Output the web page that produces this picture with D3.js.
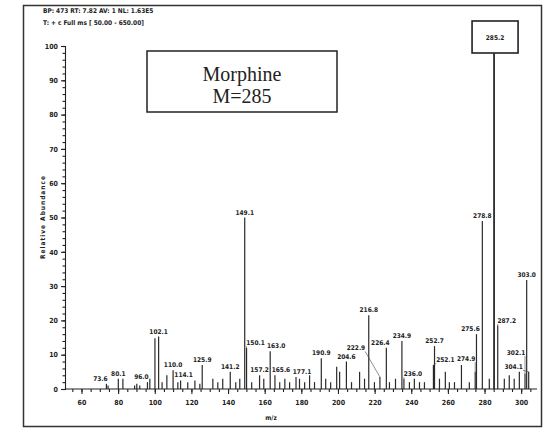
<!DOCTYPE html>
<html>
<head>
<meta charset="utf-8">
<script src="https://cdn.jsdelivr.net/npm/d3@7"></script>
<style>
  body { margin: 0; background: #fff; }
  svg { display: block; }
  .small { font-family: "DejaVu Sans Condensed", "DejaVu Sans", sans-serif; font-stretch: condensed; font-weight: bold; fill: #222; }
</style>
</head>
<body>
<div id="chart"></div>
<script>
// labelled peaks of the spectrum (m/z, relative abundance %)
var labelMz  = [73.6, 80.1, 96.0, 102.1, 110.0, 114.1, 125.9, 141.2, 149.1, 150.1, 157.2, 163.0, 165.6, 177.1,
                190.9, 204.6, 216.8, 222.9, 226.4, 234.9, 236.0, 252.1, 252.7, 274.9, 275.6, 278.8, 285.2, 287.2,
                302.1, 303.0, 304.1];
var labelInt = [1.5, 3, 2, 15.3, 5.5, 2.5, 7, 5, 50, 12, 4, 11, 4, 3.5,
                9, 8, 21.5, 3.5, 12, 14, 3, 7, 12.5, 5, 16, 49, 100, 18.5,
                4.5, 31.8, 5];

// unlabelled small peaks
var noiseMz  = [74.5, 82.6, 89.0, 90.2, 91.8, 97.3, 100.1, 104.0, 106.6, 112.6, 118.0, 121.9, 124.6,
                131.7, 134.4, 137.1, 144.2, 146.4, 152.9, 159.5, 168.2, 171.0, 173.6, 179.0, 181.8, 184.5,
                187.2, 193.3, 196.0, 199.3, 200.9, 207.4, 211.8, 214.5, 219.9, 228.1, 231.4, 239.0, 241.7,
                244.5, 247.2, 255.4, 258.6, 260.8, 263.6, 267.4, 271.7, 282.6, 290.8, 293.5, 296.2, 299.0];
var noiseInt = [1, 3, 1, 1.5, 1, 3, 14.8, 2, 4, 2, 2, 2.5, 1.5,
                3, 2, 3, 2, 3, 2, 3, 2, 3, 2, 3, 2, 4,
                2, 3, 2, 6.5, 5, 2, 5, 3, 2, 2, 3, 2, 3,
                2, 2, 3, 5, 2, 2, 7, 2, 3, 3, 4, 3, 5];

var xTicks = [60, 80, 100, 120, 140, 160, 180, 200, 220, 240, 260, 280, 300];
var yTicks = [0, 10, 20, 30, 40, 50, 60, 70, 80, 90, 100];

var headerLines = ['BP: 473  RT: 7.82  AV: 1  NL: 1.63E5', 'T: + c Full ms [ 50.00 - 650.00]'];
var boxLines = ['Morphine', 'M=285'];

var width = 543, height = 433;
var ink = '#222';

var svg = d3.select('#chart').append('svg')
	.attr('width', width)
	.attr('height', height);

// scanned page frame
svg.append('rect')
	.attr('x', 23.5).attr('y', 5.5)
	.attr('width', 518).attr('height', 421)
	.attr('fill', 'none').attr('stroke', '#333').attr('stroke-width', 1.5);

svg.selectAll('.hdr').data(headerLines).enter().append('text')
	.attr('class', 'small hdr')
	.attr('fill', ink)
	.attr('x', 43).attr('y', function (d, i) { return 13 + i * 12; })
	.attr('font-size', 6.5)
	.text(function (d) { return d; });

var x = d3.scaleLinear().domain([51, 307]).range([65, 534]);
var y = d3.scaleLinear().domain([0, 100]).range([389, 46]);

// x axis: majors with labels, minors every 5
var xAxis = svg.append('g').attr('transform', 'translate(0,389)')
	.call(d3.axisBottom(x).tickValues(xTicks).tickSize(5).tickPadding(6).tickFormat(d3.format('d')));
svg.append('g').attr('transform', 'translate(0,389)')
	.call(d3.axisBottom(x).tickValues(d3.range(55, 306, 5)).tickSize(3).tickFormat(''))
	.select('.domain').remove();
xAxis.select('.domain').attr('d', 'M65,0H537');

// y axis: majors every 10, minors every 2
var yAxis = svg.append('g').attr('transform', 'translate(65,0)')
	.call(d3.axisLeft(y).tickValues(yTicks).tickSize(4).tickPadding(3).tickFormat(d3.format('d')));
svg.append('g').attr('transform', 'translate(65,0)')
	.call(d3.axisLeft(y).tickValues(d3.range(0, 101, 2)).tickSize(2.5).tickFormat(''))
	.select('.domain').remove();

svg.selectAll('.tick text')
	.attr('class', 'small')
	.attr('fill', ink)
	.attr('font-size', 7);
svg.selectAll('.domain, .tick line').attr('stroke', ink).attr('stroke-width', 1.1);

svg.append('text')
	.attr('class', 'small')
	.attr('fill', ink)
	.attr('transform', 'translate(45,217) rotate(-90)')
	.attr('text-anchor', 'middle')
	.attr('font-size', 6.5)
	.attr('letter-spacing', 1)
	.text('Relative Abundance');

svg.append('text')
	.attr('class', 'small')
	.attr('fill', ink)
	.attr('x', 271).attr('y', 420)
	.attr('text-anchor', 'middle')
	.attr('font-size', 6.5)
	.text('m/z');

// all peaks as one list for drawing and collision checks
var peaks = [];
labelMz.forEach(function (m, i) { peaks.push({ mz: m, v: labelInt[i], label: m.toFixed(1) }); });
noiseMz.forEach(function (m, i) { peaks.push({ mz: m, v: noiseInt[i], label: null }); });

var basePeak = peaks.reduce(function (a, b) { return b.v > a.v ? b : a; });

// base peak label box
var bx = x(basePeak.mz);
svg.append('rect')
	.attr('x', bx - 22).attr('y', 21)
	.attr('width', 46).attr('height', 32)
	.attr('fill', '#fff').attr('stroke', ink).attr('stroke-width', 1.6);
svg.append('text')
	.attr('class', 'small')
	.attr('fill', ink)
	.attr('x', bx + 1).attr('y', 40)
	.attr('text-anchor', 'middle')
	.attr('font-size', 6.5)
	.text(basePeak.label);

svg.append('g').selectAll('line').data(peaks).enter().append('line')
	.attr('x1', function (d) { return x(d.mz); })
	.attr('x2', function (d) { return x(d.mz); })
	.attr('y1', y(0))
	.attr('y2', function (d) { return d === basePeak ? 53 : y(d.v); })
	.attr('stroke', '#2a2a2a')
	.attr('stroke-width', function (d) { return d === basePeak ? 1.8 : 1.2; });

// place peak labels, tallest first; nudge sideways (then upward) away from taller lines and other labels
var placed = [];
var gl = svg.append('g');
var moves = [];
[0, -8, -16, -24].forEach(function (dy) {
	moves.push([0, dy]);
	for (var k = 1; k <= 8; k++) { moves.push([3 * k, dy], [-3 * k, dy]); }
});
peaks.filter(function (d) { return d.label && d !== basePeak; })
	.sort(function (a, b) { return b.v - a.v; })
	.forEach(function (d) {
		var px = x(d.mz);
		var t = gl.append('text').attr('class', 'small').attr('fill', ink).attr('font-size', 6.5)
			.attr('text-anchor', 'middle').text(d.label);
		var w = t.node().getComputedTextLength();
		var dx = 0, base = y(d.v) - 3;
		for (var s = 0; s < moves.length; s++) {
			var cx = px + moves[s][0], b0 = y(d.v) - 3 + moves[s][1];
			var l = cx - w / 2 - 1, r = cx + w / 2 + 1, top = b0 - 7, bottom = b0 + 1;
			if (r > 545) continue;
			var hit = peaks.some(function (p) {
				return p !== d && x(p.mz) >= l && x(p.mz) <= r && y(p.v) < bottom;
			}) || placed.some(function (b) {
				return l < b.r && r > b.l && top < b.bottom && bottom > b.top;
			});
			if (!hit) { dx = moves[s][0]; base = b0; break; }
		}
		t.attr('x', px + dx).attr('y', base);
		placed.push({ l: px + dx - w / 2 - 1, r: px + dx + w / 2 + 1, top: base - 7, bottom: base + 1 });
		if (Math.abs(dx) > 7 || base < y(d.v) - 5) {
			var ex = Math.max(px + dx - w / 2, Math.min(px + dx + w / 2, px));
			gl.append('line')
				.attr('x1', ex).attr('y1', base + 1.5)
				.attr('x2', px).attr('y2', y(d.v))
				.attr('stroke', '#444').attr('stroke-width', 0.6);
		}
	});

// Morphine annotation box
svg.append('rect')
	.attr('x', 147).attr('y', 51)
	.attr('width', 190).attr('height', 61)
	.attr('fill', '#fff').attr('stroke', ink).attr('stroke-width', 1.5);
svg.selectAll('.box').data(boxLines).enter().append('text')
	.attr('x', 242).attr('y', function (d, i) { return 81 + i * 22; })
	.attr('text-anchor', 'middle')
	.attr('font-family', '"Liberation Serif", "DejaVu Serif", serif')
	.attr('font-size', 20)
	.attr('fill', ink)
	.text(function (d) { return d; });
</script>
</body>
</html>
